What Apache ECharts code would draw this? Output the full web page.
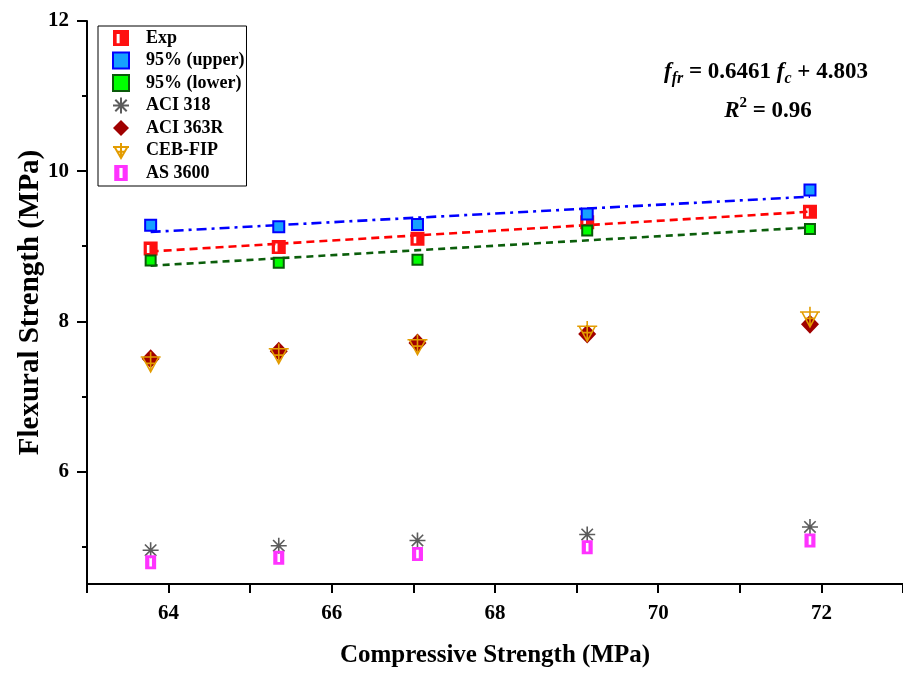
<!DOCTYPE html>
<html>
<head>
<meta charset="utf-8">
<script src="https://cdn.jsdelivr.net/npm/echarts@6/dist/echarts.min.js"></script>
<style>
html,body{margin:0;padding:0;background:#fff;}
#c{width:903px;height:673px;}
</style>
</head>
<body>
<div id="c"></div>
<script>
// ---- data ----
const xValues      = [63.78, 65.35, 67.05, 69.13, 71.86];
const expValues    = [8.97, 8.99, 9.10, 9.32, 9.46];
const upperValues  = [9.28, 9.26, 9.29, 9.43, 9.75];
const lowerValues  = [8.81, 8.78, 8.82, 9.21, 9.23];
const aci318Values = [4.95, 5.01, 5.08, 5.16, 5.26];
const aci363Values = [7.50, 7.60, 7.71, 7.83, 7.96];
const cebValues    = [7.46, 7.57, 7.69, 7.87, 8.06];
const as3600Values = [4.79, 4.85, 4.90, 4.99, 5.08];
// fitted trend lines (end points)
const fitX     = [63.78, 71.86];
const expFit   = [8.93, 9.46];
const upperFit = [9.19, 9.66];
const lowerFit = [8.74, 9.25];
// tick labels
const xTickLabels = [64, 66, 68, 70, 72];
const yTickLabels = [6, 8, 10, 12];
const yMinorTicks = [5, 7, 9, 11];
const seriesNames = ['Exp', '95% (upper)', '95% (lower)', 'ACI 318', 'ACI 363R', 'CEB-FIP', 'AS 3600'];

const FONT = 'Liberation Serif';
const pts = ys => xValues.map((x, i) => [x, ys[i]]);
const fitPts = ys => fitX.map((x, i) => [x, ys[i]]);

const expSymbol = 'path://M0,0 L14,0 L14,14 L0,14 Z M3.2,3.5 L3.2,11.5 L5.8,11.5 L5.8,3.5 Z';
const asSymbol = 'path://M0,0 L11,0 L11,13 L0,13 Z M4.2,2.5 L4.2,10.5 L6.8,10.5 L6.8,2.5 Z';
const starSymbol = 'path://M8,0 L8,16 M0,8 L16,8 M2.3,2.3 L13.7,13.7 M13.7,2.3 L2.3,13.7';
const cebSymbol = 'path://M0,5 L20,5 M2,5 L18,5 L10,19 Z M10,0 L10,19 M5,11 L15,11';

const chart = echarts.init(document.getElementById('c'), null, {renderer: 'canvas'});

const lineSeries = (name, ys, color, type) => ({
  name: name, type: 'line', data: fitPts(ys), symbol: 'none', z: 1, silent: true,
  lineStyle: {color: color, width: 2.6, type: type}
});

chart.setOption({
  animation: false,
  backgroundColor: '#fff',
  grid: {left: 87, top: 21, right: -4, bottom: 87, containLabel: false},
  xAxis: {
    type: 'value', min: 63, max: 73, interval: 1,
    name: 'Compressive Strength (MPa)', nameLocation: 'middle', nameGap: 59, nameMoveOverlap: false,
    nameTextStyle: {fontFamily: FONT, fontWeight: 'bold', fontSize: 25, color: '#000'},
    axisLine: {show: true, onZero: false, lineStyle: {color: '#000', width: 2}},
    axisTick: {show: true, length: 9, lineStyle: {color: '#000', width: 2}},
    axisLabel: {customValues: xTickLabels, fontFamily: FONT, fontWeight: 'bold', fontSize: 21, color: '#000', margin: 19},
    splitLine: {show: false}
  },
  yAxis: [{
    type: 'value', min: 4.5, max: 12, position: 'left',
    name: 'Flexural Strength (MPa)', nameLocation: 'middle', nameGap: 42, nameMoveOverlap: false,
    nameTextStyle: {fontFamily: FONT, fontWeight: 'bold', fontSize: 29, color: '#000'},
    axisLine: {show: true, onZero: false, lineStyle: {color: '#000', width: 2}},
    axisTick: {show: true, length: 10, customValues: yTickLabels, lineStyle: {color: '#000', width: 2}},
    axisLabel: {customValues: yTickLabels, fontFamily: FONT, fontWeight: 'bold', fontSize: 21, color: '#000', margin: 18},
    splitLine: {show: false}
  }, {
    type: 'value', min: 4.5, max: 12, position: 'left',
    axisLine: {show: false},
    axisTick: {show: true, length: 5, customValues: yMinorTicks, lineStyle: {color: '#000', width: 2}},
    axisLabel: {show: false},
    splitLine: {show: false}
  }],
  legend: {
    orient: 'vertical', left: 98, top: 26,
    data: seriesNames,
    itemWidth: 16, itemHeight: 16, itemGap: 2.5,
    padding: [2, 2, 3, 14],
    borderColor: '#000', borderWidth: 1,
    textStyle: {fontFamily: FONT, fontWeight: 'bold', fontSize: 18, color: '#000', lineHeight: 20, padding: [0, 0, 0, 12]}
  },
  graphic: [{
    type: 'text', x: 766, y: 72,
    style: {
      text: '{fi|f}{sub|fr}{b| = 0.6461 }{fi|f}{sub|c}{b| + 4.803}',
      align: 'center', verticalAlign: 'middle', fill: '#000',
      rich: {
        fi: {fontFamily: FONT, fontWeight: 'bold', fontStyle: 'italic', fontSize: 23, lineHeight: 30, fill: '#000'},
        b: {fontFamily: FONT, fontWeight: 'bold', fontSize: 23, lineHeight: 30, fill: '#000'},
        sub: {fontFamily: FONT, fontWeight: 'bold', fontStyle: 'italic', fontSize: 16, lineHeight: 16, verticalAlign: 'bottom', fill: '#000'}
      }
    }
  }, {
    type: 'text', x: 768, y: 111,
    style: {
      text: '{fi|R}{sup|2}{b| = 0.96}',
      align: 'center', verticalAlign: 'middle', fill: '#000',
      rich: {
        fi: {fontFamily: FONT, fontWeight: 'bold', fontStyle: 'italic', fontSize: 23, lineHeight: 30, fill: '#000'},
        b: {fontFamily: FONT, fontWeight: 'bold', fontSize: 23, lineHeight: 30, fill: '#000'},
        sup: {fontFamily: FONT, fontWeight: 'bold', fontSize: 15, lineHeight: 15, verticalAlign: 'top', fill: '#000'}
      }
    }
  }],
  series: [
    lineSeries('expFit', expFit, '#ff0000', [8, 5]),
    lineSeries('upperFit', upperFit, '#0000ff', [10, 5, 3, 5]),
    lineSeries('lowerFit', lowerFit, '#0b5e0b', [7, 5]),
    {name: 'Exp', type: 'scatter', data: pts(expValues), symbol: expSymbol, symbolSize: [14, 14],
     itemStyle: {color: '#ff1010', opacity: 1}},
    {name: '95% (upper)', type: 'scatter', data: pts(upperValues), symbol: 'rect', symbolSize: 11,
     itemStyle: {color: '#16a0ff', borderColor: '#0000ff', borderWidth: 2, opacity: 1}},
    {name: '95% (lower)', type: 'scatter', data: pts(lowerValues), symbol: 'rect', symbolSize: 10,
     itemStyle: {color: '#00ff00', borderColor: '#0a5a0a', borderWidth: 2, opacity: 1}},
    {name: 'ACI 318', type: 'scatter', data: pts(aci318Values), symbol: starSymbol, symbolSize: 16,
     itemStyle: {color: 'transparent', borderColor: '#5c5c5c', borderWidth: 1.6, opacity: 1}},
    {name: 'ACI 363R', type: 'scatter', data: pts(aci363Values), symbol: 'diamond', symbolSize: [18, 19],
     itemStyle: {color: '#a00000', opacity: 1}},
    {name: 'CEB-FIP', type: 'scatter', data: pts(cebValues), symbol: cebSymbol, symbolSize: [20, 20],
     itemStyle: {color: 'transparent', borderColor: '#e39c00', borderWidth: 1.6, opacity: 1}},
    {name: 'AS 3600', type: 'scatter', data: pts(as3600Values), symbol: asSymbol, symbolSize: [11, 14],
     itemStyle: {color: '#ff33ff', opacity: 1}}
  ]
});
</script>
</body>
</html>
